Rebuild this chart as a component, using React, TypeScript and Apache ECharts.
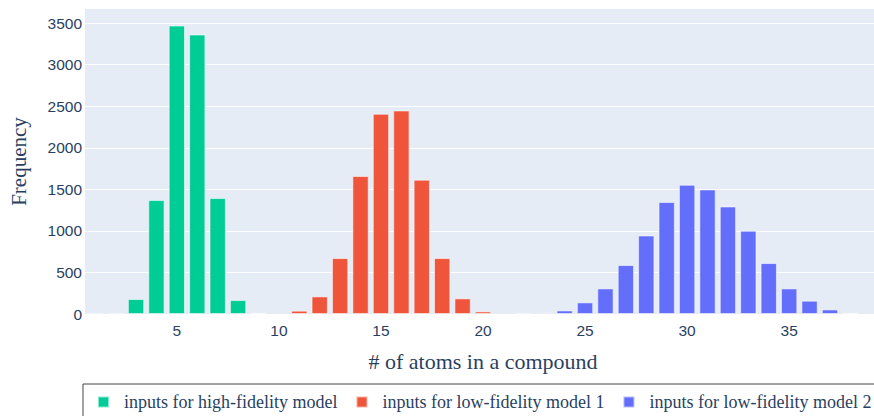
import React, { useEffect, useRef } from "react";
import * as echarts from "echarts";

// Histogram bins (# of atoms) shown on the x axis
const atomCounts: string[] = Array.from({ length: 39 }, (_, i) => String(i + 1));

// Counts per bin for each group of compounds
const highFidelityBins = [1, 2, 3, 4, 5, 6, 7, 8, 9];
const highFidelityCounts = [2, 1, 180, 1371, 3471, 3363, 1395, 168, 12];

const lowFidelity1Bins = [11, 12, 13, 14, 15, 16, 17, 18, 19, 20];
const lowFidelity1Counts = [40, 212, 673, 1660, 2409, 2449, 1616, 673, 188, 31];

const lowFidelity2Bins = [22, 23, 24, 25, 26, 27, 28, 29, 30, 31, 32, 33, 34, 35, 36, 37, 38];
const lowFidelity2Counts = [3, 16, 43, 140, 308, 589, 945, 1347, 1555, 1499, 1294, 1002, 613, 308, 160, 55, 10];

const seriesNames = [
  "inputs for high-fidelity model",
  "inputs for low-fidelity model 1",
  "inputs for low-fidelity model 2",
];
const seriesColors = ["#00CC96", "#EF553B", "#636EFA"];

const yTickStep = 500;
const yMax = 3670;

function alignToBins(bins: number[], counts: number[]): (number | string)[] {
  return atomCounts.map((c) => {
    const idx = bins.indexOf(Number(c));
    return idx >= 0 ? counts[idx] : "-";
  });
}

export default function App() {
  const ref = useRef<HTMLDivElement>(null);

  useEffect(() => {
    if (!ref.current) return;
    const chart = echarts.init(ref.current, undefined, { renderer: "svg" });
    const textColor = "#2a3f5f";
    const tickFont = "'Liberation Sans', Arial, sans-serif";
    const groups = [
      alignToBins(highFidelityBins, highFidelityCounts),
      alignToBins(lowFidelity1Bins, lowFidelity1Counts),
      alignToBins(lowFidelity2Bins, lowFidelity2Counts),
    ];

    chart.setOption({
      animation: false,
      grid: {
        left: 85,
        top: 9,
        width: 796,
        height: 305,
        show: true,
        backgroundColor: "#E5ECF6",
        borderWidth: 0,
      },
      xAxis: {
        type: "category",
        data: atomCounts,
        boundaryGap: true,
        axisLine: { show: false },
        axisTick: { show: false },
        splitLine: { show: false },
        axisLabel: {
          interval: (_i: number, v: string) => Number(v) % 5 === 0,
          color: textColor,
          fontFamily: tickFont,
          fontSize: 15.5,
          margin: 8,
        },
        name: "# of atoms in a compound",
        nameLocation: "middle",
        nameGap: 36,
        nameTextStyle: {
          color: textColor,
          fontFamily: "'Liberation Serif', serif",
          fontSize: 22,
        },
      },
      yAxis: {
        type: "value",
        min: 0,
        max: yMax,
        interval: yTickStep,
        axisLine: { show: false },
        axisTick: { show: false },
        splitLine: {
          show: true,
          showMaxLine: false,
          lineStyle: { color: "#ffffff", width: 1 },
        },
        axisLabel: {
          color: textColor,
          fontFamily: tickFont,
          fontSize: 15.5,
          margin: 3,
          showMaxLabel: false,
          formatter: (v: number) => String(v),
        },
        name: "Frequency",
        nameLocation: "middle",
        nameGap: 56,
        nameTextStyle: {
          color: textColor,
          fontFamily: "'Liberation Serif', serif",
          fontSize: 21,
        },
      },
      legend: {
        data: seriesNames,
        left: 83,
        top: 384,
        orient: "horizontal",
        icon: "rect",
        itemWidth: 11,
        itemHeight: 11,
        itemGap: 18,
        padding: [9, 14, 12, 14],
        borderColor: "#444444",
        borderWidth: 1,
        backgroundColor: "#ffffff",
        textStyle: {
          color: textColor,
          fontFamily: "'Liberation Serif', serif",
          fontSize: 18,
          padding: [0, 0, 0, 10],
        },
      },
      series: seriesNames.map((name, i) => ({
        name,
        type: "bar",
        data: groups[i],
        barWidth: "80%",
        barGap: "-100%",
        itemStyle: {
          color: seriesColors[i],
          borderColor: "rgba(255,255,255,0.55)",
          borderWidth: 1,
        },
      })),
    });

    return () => chart.dispose();
  }, []);

  return (
    <div
      style={{
        position: "fixed",
        left: 0,
        top: 0,
        width: 874,
        height: 416,
        overflow: "hidden",
        background: "#ffffff",
      }}
    >
      <div ref={ref} style={{ width: 940, height: 416 }} />
    </div>
  );
}
